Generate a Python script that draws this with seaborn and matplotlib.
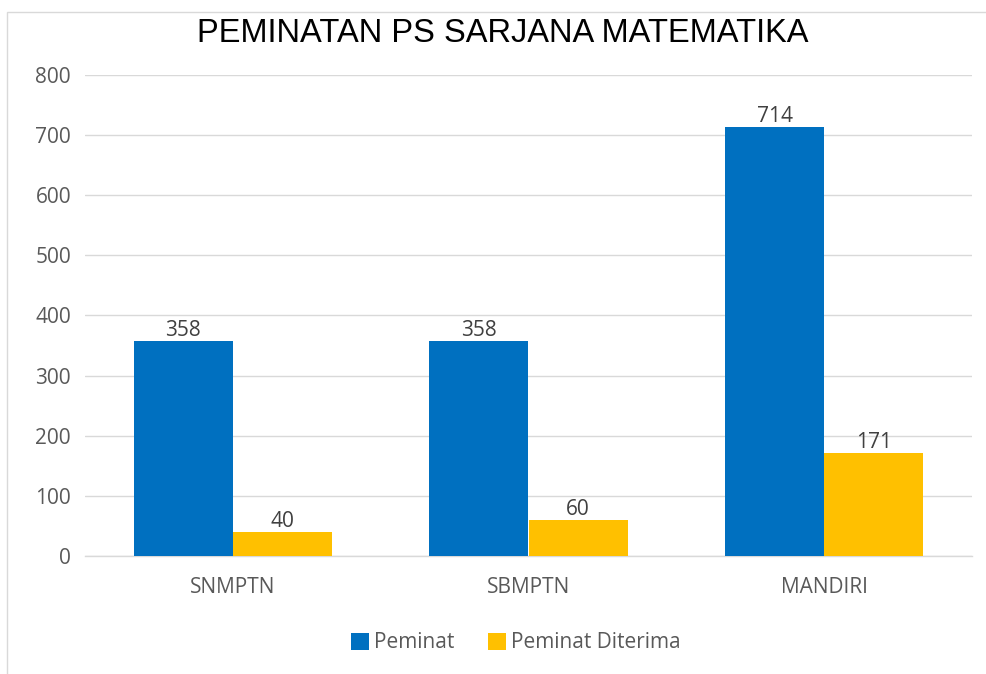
import pandas as pd
import seaborn as sns
import matplotlib.pyplot as plt
from matplotlib.patches import Rectangle

# data
jalur = ['SNMPTN', 'SBMPTN', 'MANDIRI']
peminat = [358, 358, 714]
diterima = [40, 60, 171]
seri = ['Peminat', 'Peminat Diterima']

data = pd.DataFrame({
    'jalur': jalur * 2,
    'nilai': peminat + diterima,
    'seri': [seri[0]] * 3 + [seri[1]] * 3,
})

sns.set_theme(style='white')
plt.rcParams['font.family'] = ['Open Sans', 'DejaVu Sans']

fig = plt.figure(figsize=(9.86, 6.74), dpi=100)
ax = fig.add_axes([85 / 986, 1 - 556 / 674, (972 - 85) / 986, (556 - 75) / 674])

bars = sns.barplot(data=data, x='jalur', y='nilai', hue='seri', ax=ax,
                   palette=['#0070C0', '#FFC000'], width=0.67, gap=0,
                   saturation=1, edgecolor='none', linewidth=0, zorder=3)

# angka di atas batang
for cont in ax.containers:
    ax.bar_label(cont, fontsize=15, color='#404040', padding=0)

ax.set_ylim(0, 800)
ax.set_yticks(range(0, 801, 100))
ax.yaxis.grid(True, color='#D9D9D9', linewidth=1, zorder=0)
ax.set_axisbelow(True)
for s in ['top', 'right', 'left']:
    ax.spines[s].set_visible(False)
ax.spines['bottom'].set_color('#D9D9D9')
ax.spines['bottom'].set_linewidth(1)
ax.tick_params(axis='both', length=0, labelsize=15, colors='#595959')
ax.tick_params(axis='y', pad=10)
ax.tick_params(axis='x', pad=15)
ax.set_xlabel('')
ax.set_ylabel('')

fig.text(503 / 986, 1 - 33 / 674, 'PEMINATAN PS SARJANA MATEMATIKA',
         ha='center', va='center', fontsize=23.5, family='Liberation Sans', color='black')

ax.legend(loc='center', bbox_to_anchor=(516 / 986, 1 - 643 / 674),
          bbox_transform=fig.transFigure, ncol=2, frameon=False, fontsize=15,
          handlelength=0.85, handleheight=0.85, handletextpad=0.25, columnspacing=1.6,
          labelcolor='#595959')

# bingkai tipis
fig.patches.append(Rectangle((7 / 986, -0.05), 1.1, 1.05 - 12 / 674, transform=fig.transFigure,
                             fill=False, edgecolor='#D9D9D9', linewidth=1))

fig.savefig('out.png', dpi=100)
